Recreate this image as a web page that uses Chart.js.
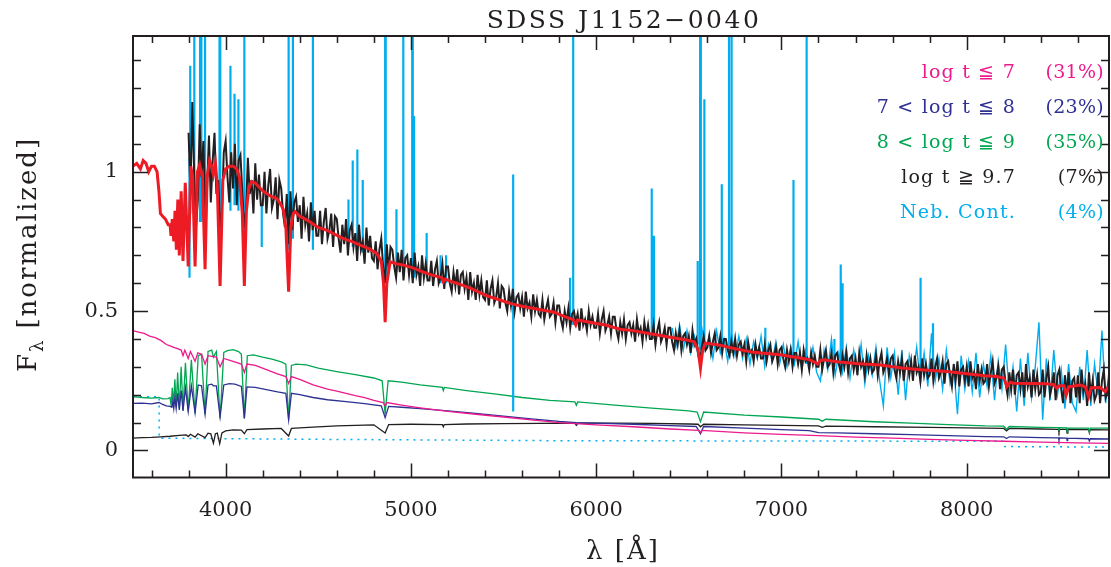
<!DOCTYPE html>
<html lang="en">
<head>
    <meta charset="UTF-8">
    <title>SDSS J1152-0040</title>
    <script src="https://cdn.jsdelivr.net/npm/chart.js"></script>
    <style>
        html, body {
            margin: 0;
            padding: 0;
            background: #fff;
        }
        #wrap {
            width: 1111px;
            height: 567px;
        }
    </style>
</head>
<body>
    <div id="wrap"><canvas id="spec"></canvas></div>

    <script>
        // observed spectrum, emission lines masked (black), 10 A grid from 3800 A
        const obsStart = 3800;
        const obsStep = 10;
        const obsFlux = [
            1.14, 0.92, 1.25, 1.00, 0.80, 0.90, 1.17, 0.98, 1.11, 0.85,
            0.94, 1.13, 0.89, 1.04, 1.14, 0.92, 0.97, 0.80, 0.86, 1.07,
            1.11, 0.98, 0.89, 1.07, 0.94, 1.10, 0.88, 1.04, 1.06, 0.93,
            0.80, 0.86, 1.05, 0.92, 0.97, 0.85, 1.03, 0.90, 0.99, 0.88,
            0.88, 1.00, 0.85, 0.95, 1.01, 0.87, 0.90, 0.98, 0.83, 0.97,
            0.94, 0.85, 0.80, 0.92, 0.74, 0.93, 0.79, 0.89, 0.91, 0.82,
            0.88, 0.76, 0.91, 0.81, 0.85, 0.75, 0.89, 0.79, 0.86, 0.77,
            0.77, 0.86, 0.74, 0.82, 0.87, 0.76, 0.79, 0.85, 0.73, 0.84,
            0.83, 0.76, 0.71, 0.81, 0.74, 0.83, 0.70, 0.79, 0.81, 0.73,
            0.78, 0.68, 0.81, 0.72, 0.75, 0.67, 0.80, 0.71, 0.77, 0.69,
            0.68, 0.75, 0.65, 0.72, 0.76, 0.66, 0.60, 0.74, 0.64, 0.73,
            0.72, 0.66, 0.62, 0.71, 0.64, 0.72, 0.61, 0.69, 0.70, 0.63,
            0.69, 0.60, 0.71, 0.63, 0.66, 0.59, 0.70, 0.62, 0.67, 0.61,
            0.61, 0.68, 0.59, 0.65, 0.68, 0.60, 0.62, 0.67, 0.58, 0.66,
            0.66, 0.60, 0.57, 0.64, 0.59, 0.65, 0.56, 0.63, 0.64, 0.58,
            0.62, 0.54, 0.64, 0.57, 0.60, 0.54, 0.63, 0.56, 0.61, 0.55,
            0.54, 0.61, 0.52, 0.58, 0.61, 0.53, 0.55, 0.60, 0.51, 0.59,
            0.58, 0.53, 0.50, 0.57, 0.52, 0.58, 0.50, 0.55, 0.56, 0.51,
            0.55, 0.48, 0.57, 0.51, 0.53, 0.48, 0.56, 0.50, 0.54, 0.49,
            0.48, 0.54, 0.47, 0.51, 0.54, 0.48, 0.49, 0.53, 0.46, 0.52,
            0.52, 0.47, 0.44, 0.50, 0.46, 0.51, 0.44, 0.49, 0.50, 0.46,
            0.49, 0.43, 0.51, 0.45, 0.47, 0.43, 0.50, 0.45, 0.48, 0.44,
            0.44, 0.49, 0.42, 0.47, 0.50, 0.43, 0.45, 0.48, 0.42, 0.48,
            0.48, 0.43, 0.40, 0.46, 0.42, 0.47, 0.40, 0.45, 0.46, 0.42,
            0.45, 0.39, 0.47, 0.42, 0.44, 0.39, 0.46, 0.41, 0.45, 0.40,
            0.40, 0.45, 0.38, 0.43, 0.46, 0.39, 0.41, 0.44, 0.38, 0.44,
            0.44, 0.39, 0.36, 0.42, 0.38, 0.43, 0.36, 0.41, 0.42, 0.38,
            0.41, 0.35, 0.43, 0.38, 0.40, 0.35, 0.32, 0.37, 0.41, 0.36,
            0.37, 0.41, 0.35, 0.39, 0.42, 0.36, 0.37, 0.41, 0.35, 0.40,
            0.40, 0.36, 0.34, 0.39, 0.35, 0.40, 0.34, 0.38, 0.39, 0.35,
            0.38, 0.32, 0.39, 0.35, 0.36, 0.32, 0.38, 0.34, 0.37, 0.33,
            0.33, 0.38, 0.32, 0.36, 0.38, 0.32, 0.34, 0.37, 0.31, 0.36,
            0.37, 0.33, 0.30, 0.36, 0.32, 0.36, 0.30, 0.35, 0.35, 0.31,
            0.35, 0.29, 0.36, 0.32, 0.33, 0.29, 0.35, 0.31, 0.34, 0.30,
            0.30, 0.36, 0.29, 0.33, 0.36, 0.30, 0.31, 0.35, 0.28, 0.34,
            0.35, 0.31, 0.28, 0.34, 0.30, 0.35, 0.28, 0.33, 0.34, 0.29,
            0.33, 0.27, 0.35, 0.30, 0.32, 0.27, 0.34, 0.29, 0.33, 0.28,
            0.29, 0.34, 0.27, 0.32, 0.35, 0.28, 0.30, 0.33, 0.27, 0.33,
            0.34, 0.29, 0.26, 0.32, 0.28, 0.33, 0.25, 0.31, 0.32, 0.27,
            0.32, 0.25, 0.34, 0.28, 0.30, 0.25, 0.33, 0.27, 0.31, 0.26,
            0.27, 0.33, 0.25, 0.30, 0.33, 0.26, 0.28, 0.32, 0.24, 0.31,
            0.32, 0.27, 0.23, 0.31, 0.25, 0.32, 0.23, 0.29, 0.30, 0.25,
            0.30, 0.23, 0.32, 0.26, 0.28, 0.22, 0.31, 0.25, 0.29, 0.24,
            0.25, 0.31, 0.23, 0.28, 0.32, 0.24, 0.26, 0.30, 0.22, 0.29,
            0.30, 0.24, 0.20, 0.28, 0.22, 0.29, 0.20, 0.27, 0.28, 0.22,
            0.28, 0.19, 0.31, 0.23, 0.26, 0.19, 0.29, 0.22, 0.27, 0.20,
            0.21, 0.29, 0.19, 0.26, 0.30, 0.20, 0.23, 0.28, 0.18, 0.27,
            0.29, 0.22, 0.17, 0.27, 0.20, 0.28, 0.17, 0.25, 0.26, 0.19,
            0.27, 0.17, 0.29, 0.21, 0.24, 0.16, 0.28, 0.20, 0.25, 0.18,
            0.20, 0.28, 0.17, 0.25, 0.29, 0.19, 0.21, 0.27
        ];

        // full observed spectrum (cyan) where it shows beyond the black one, 20 A grid from 6410 A
        const fullStart = 6410;
        const fullStep = 20;
        const fullFlux = [
            0.44, 0.37, 0.45, 0.36, 0.43, 0.35, 0.41, 0.34, 0.44, 0.36,
            0.41, 0.33, 0.43, 0.35, 0.40, 0.32, 0.42, 0.34, 0.41, 0.33,
            0.40, 0.31, 0.39, 0.33, 0.41, 0.30, 0.38, 0.32, 0.39, 0.31,
            0.38, 0.30, 0.37, 0.31, 0.39, 0.29, 0.36, 0.30, 0.37, 0.28,
            0.25, 0.36, 0.29, 0.40, 0.27, 0.35, 0.28, 0.37, 0.26, 0.36,
            0.28, 0.38, 0.24, 0.34, 0.27, 0.37, 0.25, 0.16, 0.37, 0.26,
            0.35, 0.20, 0.36, 0.18, 0.34, 0.27, 0.37, 0.24, 0.35, 0.23,
            0.42, 0.25, 0.33, 0.22, 0.36, 0.24, 0.30, 0.13, 0.34, 0.22,
            0.32, 0.21, 0.35, 0.19, 0.31, 0.23, 0.34, 0.18, 0.32, 0.22,
            0.38, 0.20, 0.30, 0.14, 0.33, 0.16, 0.35, 0.19, 0.30, 0.46,
            0.11, 0.33, 0.18, 0.36, 0.20, 0.29, 0.15, 0.31, 0.17, 0.14,
            0.30, 0.18, 0.36, 0.16, 0.31, 0.20, 0.43, 0.17, 0.30
        ];

        // emission lines in the full spectrum: [wavelength, low, high]
        const emissionLines = [
            [3805, 0.62, 1.05], [3809, 0.85, 1.38], [3831, 0.80, 1.60], [3862, 0.82, 1.60],
            [3869, 0.82, 1.60], [3889, 0.78, 1.60], [3967, 0.70, 1.60], [3971, 0.70, 1.60],
            [4026, 0.86, 1.38], [4048, 0.88, 1.28], [4069, 0.86, 1.26], [4101, 0.62, 1.60],
            [4195, 0.73, 0.88], [4340, 0.72, 1.60], [4363, 0.76, 1.60], [4471, 0.72, 1.60],
            [4663, 0.74, 0.90], [4686, 0.73, 1.04], [4711, 0.72, 1.08], [4740, 0.71, 0.97],
            [4861, 0.62, 1.60], [4864, 0.62, 1.60], [4922, 0.64, 0.865], [4959, 0.63, 1.60],
            [5007, 0.62, 1.60], [5010, 0.62, 1.60], [5017, 0.62, 1.20], [5085, 0.62, 0.78],
            [5160, 0.60, 0.70], [5190, 0.60, 0.70], [5552, 0.14, 0.99], [5859, 0.46, 0.62],
            [5876, 0.45, 1.60], [6300, 0.40, 0.94], [6312, 0.40, 0.77], [6548, 0.38, 0.68],
            [6561, 0.36, 1.60], [6565, 0.36, 1.60], [6584, 0.37, 1.26], [6678, 0.35, 0.955],
            [6717, 0.35, 1.60], [6731, 0.35, 1.60], [6913, 0.33, 0.44], [7065, 0.32, 0.97],
            [7136, 0.31, 1.60], [7286, 0.30, 0.40], [7320, 0.30, 0.667], [7330, 0.30, 0.60],
            [7751, 0.27, 0.62], [7818, 0.27, 0.456]
        ];

        // best-fit synthetic spectrum (red): [wavelength, flux]
        const modelPoints = [
            [3500, 1.02], [3520, 1.03], [3540, 1.01], [3555, 1.04], [3570, 1.03], [3585, 1.00],
            [3600, 1.02], [3615, 1.02], [3630, 1.00], [3640, 0.93], [3648, 0.85], [3660, 0.84],
            [3675, 0.83], [3690, 0.81], [3700, 0.81], [3705, 0.77], [3712, 0.83], [3720, 0.75],
            [3727, 0.86], [3734, 0.72], [3742, 0.90], [3750, 0.70], [3760, 0.93], [3770, 0.68],
            [3782, 0.96], [3798, 0.66], [3812, 1.02], [3822, 0.98], [3835, 0.66], [3848, 1.00],
            [3860, 1.025], [3875, 0.98], [3889, 0.65], [3900, 0.98], [3913, 1.04], [3925, 1.02],
            [3934, 0.99], [3945, 1.03], [3955, 0.95], [3970, 0.59], [3985, 0.97], [4000, 1.01],
            [4020, 1.02], [4040, 1.02], [4060, 1.01], [4075, 0.98], [4090, 0.85], [4101, 0.59],
            [4112, 0.86], [4125, 0.94], [4141, 0.965], [4160, 0.96], [4180, 0.945], [4203, 0.93],
            [4225, 0.92], [4250, 0.91], [4276, 0.905], [4300, 0.88], [4312, 0.863], [4325, 0.80],
            [4340, 0.57], [4352, 0.80], [4365, 0.85], [4375, 0.857], [4400, 0.84], [4430, 0.83],
            [4456, 0.82], [4500, 0.80], [4546, 0.79], [4590, 0.775], [4636, 0.76], [4680, 0.75],
            [4726, 0.737], [4770, 0.725], [4816, 0.707], [4840, 0.68], [4852, 0.60], [4861, 0.46],
            [4870, 0.60], [4888, 0.677], [4920, 0.67], [4960, 0.665], [5010, 0.655], [5068, 0.64],
            [5110, 0.63], [5165, 0.62], [5175, 0.605], [5185, 0.615], [5200, 0.61], [5270, 0.595],
            [5330, 0.58], [5409, 0.555], [5480, 0.54], [5550, 0.525], [5620, 0.515], [5700, 0.505],
            [5769, 0.497], [5830, 0.48], [5875, 0.47], [5890, 0.45], [5900, 0.468], [5950, 0.462],
            [6050, 0.45], [6129, 0.435], [6200, 0.43], [6300, 0.418], [6400, 0.406], [6489, 0.396],
            [6530, 0.39], [6550, 0.36], [6563, 0.295], [6575, 0.36], [6590, 0.385], [6669, 0.378],
            [6750, 0.365], [6850, 0.352], [6993, 0.343], [7100, 0.332], [7150, 0.326], [7173, 0.319],
            [7195, 0.31], [7210, 0.323], [7227, 0.325], [7300, 0.318], [7400, 0.312], [7533, 0.307],
            [7650, 0.296], [7750, 0.29], [7893, 0.283], [8000, 0.275], [8100, 0.268], [8163, 0.265],
            [8200, 0.26], [8217, 0.229], [8235, 0.245], [8253, 0.241], [8350, 0.24], [8433, 0.239],
            [8470, 0.236], [8487, 0.223], [8500, 0.232], [8525, 0.232], [8537, 0.199], [8550, 0.228],
            [8613, 0.235], [8640, 0.228], [8658, 0.193], [8672, 0.225], [8720, 0.226], [8748, 0.211],
            [8760, 0.226], [8775, 0.229]
        ];

        // age components
        const youngPoints = [
            [3500, 0.43], [3530, 0.425], [3560, 0.42], [3590, 0.41], [3620, 0.405], [3650, 0.395],
            [3680, 0.38], [3700, 0.375], [3720, 0.37], [3740, 0.365], [3760, 0.36], [3770, 0.34],
            [3780, 0.36], [3798, 0.33], [3810, 0.355], [3835, 0.32], [3850, 0.35], [3870, 0.345],
            [3889, 0.31], [3905, 0.34], [3950, 0.335], [3970, 0.30], [3990, 0.33], [4040, 0.32],
            [4085, 0.31], [4101, 0.28], [4115, 0.31], [4160, 0.305], [4220, 0.29], [4280, 0.275],
            [4325, 0.265], [4340, 0.24], [4355, 0.265], [4400, 0.255], [4472, 0.235], [4500, 0.23],
            [4550, 0.22], [4600, 0.213], [4650, 0.205], [4700, 0.197], [4750, 0.19], [4800, 0.18],
            [4850, 0.172], [4861, 0.16], [4870, 0.172], [4950, 0.163], [5050, 0.153], [5200, 0.14],
            [5350, 0.13], [5500, 0.12], [5650, 0.11], [5800, 0.10], [6000, 0.092], [6200, 0.085],
            [6400, 0.077], [6555, 0.072], [6563, 0.064], [6570, 0.072], [6800, 0.063], [7000, 0.058],
            [7200, 0.053], [7400, 0.048], [7600, 0.044], [7800, 0.04], [8000, 0.036], [8200, 0.033],
            [8400, 0.03], [8600, 0.027], [8775, 0.025]
        ];

        const midPoints = [
            [3500, 0.169], [3550, 0.17], [3600, 0.167], [3640, 0.172], [3660, 0.165], [3680, 0.16],
            [3700, 0.158], [3710, 0.155], [3715, 0.175], [3720, 0.15], [3726, 0.19], [3733, 0.15],
            [3741, 0.205], [3750, 0.145], [3760, 0.215], [3770, 0.142], [3783, 0.225], [3798, 0.14],
            [3815, 0.232], [3835, 0.135], [3852, 0.235], [3870, 0.232], [3889, 0.13], [3905, 0.235],
            [3925, 0.238], [3934, 0.232], [3950, 0.232], [3970, 0.12], [3990, 0.235], [4020, 0.24],
            [4050, 0.238], [4085, 0.23], [4101, 0.115], [4115, 0.228], [4160, 0.226], [4220, 0.218],
            [4280, 0.21], [4325, 0.205], [4340, 0.11], [4355, 0.205], [4400, 0.2], [4472, 0.19],
            [4550, 0.182], [4650, 0.175], [4750, 0.168], [4840, 0.16], [4861, 0.118], [4880, 0.158],
            [4950, 0.155], [5050, 0.15], [5200, 0.142], [5350, 0.133], [5500, 0.123], [5650, 0.113],
            [5800, 0.104], [5890, 0.1], [5893, 0.093], [5896, 0.1], [6000, 0.098], [6200, 0.094],
            [6400, 0.089], [6540, 0.086], [6563, 0.06], [6580, 0.086], [6800, 0.08], [7000, 0.075],
            [7150, 0.071], [7200, 0.064], [7300, 0.063], [7500, 0.06], [7700, 0.057], [7900, 0.053],
            [8100, 0.05], [8200, 0.049], [8215, 0.043], [8230, 0.049], [8400, 0.046], [8495, 0.045],
            [8498, 0.037], [8501, 0.045], [8540, 0.044], [8542, 0.035], [8545, 0.044], [8657, 0.042],
            [8662, 0.034], [8667, 0.042], [8775, 0.041]
        ];

        const interPoints = [
            [3500, 0.193], [3550, 0.19], [3600, 0.188], [3640, 0.19], [3660, 0.185], [3690, 0.186],
            [3700, 0.19], [3706, 0.16], [3712, 0.225], [3718, 0.16], [3726, 0.255], [3733, 0.155],
            [3741, 0.28], [3750, 0.15], [3760, 0.30], [3770, 0.145], [3783, 0.315], [3798, 0.14],
            [3815, 0.325], [3835, 0.133], [3852, 0.34], [3870, 0.345], [3889, 0.13], [3905, 0.355],
            [3925, 0.36], [3934, 0.335], [3950, 0.355], [3970, 0.115], [3990, 0.352], [4010, 0.358],
            [4040, 0.362], [4070, 0.355], [4085, 0.345], [4101, 0.115], [4117, 0.34], [4150, 0.343],
            [4200, 0.335], [4250, 0.328], [4300, 0.318], [4325, 0.31], [4340, 0.109], [4355, 0.305],
            [4380, 0.31], [4436, 0.307], [4500, 0.295], [4600, 0.283], [4700, 0.272], [4800, 0.26],
            [4845, 0.25], [4861, 0.13], [4877, 0.25], [4950, 0.245], [5050, 0.235], [5170, 0.226],
            [5175, 0.215], [5180, 0.226], [5300, 0.215], [5450, 0.203], [5600, 0.19], [5750, 0.18],
            [5885, 0.174], [5893, 0.162], [5900, 0.174], [6100, 0.163], [6300, 0.152], [6500, 0.142],
            [6545, 0.138], [6563, 0.103], [6580, 0.138], [6800, 0.127], [7000, 0.12], [7200, 0.112],
            [7220, 0.105], [7240, 0.112], [7500, 0.103], [7700, 0.098], [7900, 0.093], [8100, 0.088],
            [8200, 0.087], [8215, 0.076], [8230, 0.086], [8400, 0.083], [8495, 0.082], [8498, 0.07],
            [8501, 0.082], [8540, 0.081], [8542, 0.066], [8545, 0.081], [8657, 0.08], [8662, 0.066],
            [8667, 0.08], [8775, 0.08]
        ];

        const oldPoints = [
            [3500, 0.044], [3550, 0.046], [3600, 0.047], [3650, 0.049], [3700, 0.051], [3750, 0.054],
            [3787, 0.056], [3798, 0.05], [3810, 0.058], [3835, 0.048], [3850, 0.06], [3889, 0.046],
            [3905, 0.062], [3920, 0.06], [3934, 0.026], [3945, 0.06], [3955, 0.062], [3968, 0.024],
            [3980, 0.063], [4000, 0.07], [4040, 0.074], [4085, 0.073], [4101, 0.06], [4115, 0.075],
            [4200, 0.077], [4300, 0.079], [4340, 0.052], [4355, 0.079], [4400, 0.081], [4472, 0.084],
            [4600, 0.088], [4700, 0.09], [4800, 0.092], [4861, 0.063], [4880, 0.093], [5000, 0.094],
            [5170, 0.093], [5175, 0.085], [5180, 0.093], [5300, 0.095], [5500, 0.096], [5700, 0.097],
            [5885, 0.098], [5893, 0.09], [5900, 0.098], [6100, 0.098], [6300, 0.097], [6500, 0.095],
            [6550, 0.094], [6563, 0.085], [6580, 0.094], [6800, 0.092], [7000, 0.09], [7200, 0.088],
            [7220, 0.083], [7240, 0.087], [7500, 0.085], [7800, 0.083], [8100, 0.08], [8200, 0.079],
            [8215, 0.07], [8230, 0.079], [8400, 0.077], [8494, 0.076], [8498, 0.066], [8502, 0.076],
            [8538, 0.076], [8542, 0.062], [8546, 0.076], [8658, 0.075], [8662, 0.064], [8666, 0.075],
            [8775, 0.074]
        ];

        // nebular continuum (dotted)
        const nebPoints = [
            [3500, 0.193], [3641, 0.193], [3641, 0.044], [4500, 0.04], [5800, 0.035],
            [8200, 0.033], [8205, 0.014], [8775, 0.012]
        ];

        const legendLabels = ['log t \u2266 7', '7 < log t \u2266 8', '8 < log t \u2266 9', 'log t \u2267 9.7', 'Neb. Cont.'];
        const legendShares = ['(31%)', '(23%)', '(35%)', '(7%)', '(4%)'];
        const legendColors = ['#EC1A8D', '#2E3192', '#00A651', '#231F20', '#00AEEF'];

        const C = {
            red: '#ED1C24', black: '#231F20', cyan: '#00AEEF',
            pink: '#EC1A8D', navy: '#2E3192', green: '#00A651'
        };

        function toXY(list) {
            return list.map(p => ({ x: p[0], y: p[1] }));
        }

        function gridXY(start, step, flux) {
            return flux.map((f, i) => ({ x: start + i * step, y: f }));
        }

        function lineXY(lines) {
            const out = [];
            lines.forEach(l => {
                out.push({ x: l[0], y: l[1] });
                out.push({ x: l[0], y: l[2] });
                out.push({ x: l[0], y: null });
            });
            return out;
        }

        function ds(data, color, width, extra) {
            return Object.assign({
                data: data,
                borderColor: color,
                borderWidth: width,
                pointRadius: 0,
                tension: 0,
                fill: false
            }, extra || {});
        }

        const frame = {
            id: 'frame',
            afterDraw(chart) {
                const { ctx, chartArea: a, scales: { x, y } } = chart;
                ctx.save();
                ctx.strokeStyle = C.black;
                ctx.lineWidth = 1.5;
                ctx.beginPath();
                x.ticks.forEach(t => {
                    const px = Math.round(x.getPixelForValue(t.value)) + 0.5;
                    const len = t.value % 1000 === 0 ? 14 : 7;
                    ctx.moveTo(px, a.bottom); ctx.lineTo(px, a.bottom - len);
                    ctx.moveTo(px, a.top); ctx.lineTo(px, a.top + len);
                });
                y.ticks.forEach(t => {
                    const py = Math.round(y.getPixelForValue(t.value)) + 0.5;
                    const major = Math.abs(t.value * 2 - Math.round(t.value * 2)) < 1e-6;
                    const len = major ? 15 : 8;
                    ctx.moveTo(a.left, py); ctx.lineTo(a.left + len, py);
                    ctx.moveTo(a.right, py); ctx.lineTo(a.right - len, py);
                });
                ctx.stroke();
                ctx.lineWidth = 2;
                ctx.strokeRect(a.left, a.top, a.right - a.left, a.bottom - a.top);

                ctx.fillStyle = C.black;
                ctx.textBaseline = 'alphabetic';

                // title
                ctx.letterSpacing = '2.5px';
                ctx.font = '25px "DejaVu Serif"';
                ctx.textAlign = 'center';
                ctx.fillText('SDSS J1152\u22120040', 624, 28);

                // x axis title
                ctx.letterSpacing = '2px';
                ctx.font = '26px "DejaVu Serif"';
                ctx.fillText('\u03bb [\u00c5]', 623, 559);

                // y axis title
                ctx.save();
                ctx.translate(36, 372);
                ctx.rotate(-Math.PI / 2);
                ctx.textAlign = 'left';
                ctx.font = '26px "DejaVu Serif"';
                ctx.fillText('F', 0, 0);
                let w = ctx.measureText('F').width;
                ctx.font = '18px "DejaVu Serif"';
                ctx.fillText('\u03bb', w, 7);
                w += ctx.measureText('\u03bb').width + 10;
                ctx.font = '26px "DejaVu Serif"';
                ctx.fillText('[normalized]', w, 0);
                ctx.restore();

                // legend
                ctx.font = '19px "DejaVu Serif"';
                ctx.textAlign = 'right';
                legendLabels.forEach((lab, i) => {
                    const by = 78 + i * 35;
                    ctx.fillStyle = legendColors[i];
                    ctx.letterSpacing = '1.2px';
                    ctx.fillText(lab, 1016, by);
                    ctx.letterSpacing = '0.3px';
                    ctx.fillText(legendShares[i], 1104, by);
                });
                ctx.restore();
            }
        };

        const tickFont = { family: 'DejaVu Serif', size: 21 };

        new Chart(document.getElementById('spec'), {
            type: 'line',
            data: {
                datasets: [
                    ds(toXY(modelPoints), C.red, 3),
                    ds(gridXY(obsStart, obsStep, obsFlux), C.black, 2),
                    ds(lineXY(emissionLines), C.cyan, 2.2, { spanGaps: false }),
                    ds(gridXY(fullStart, fullStep, fullFlux), C.cyan, 1.4),
                    ds(toXY(youngPoints), C.pink, 1.3),
                    ds(toXY(midPoints), C.navy, 1.3),
                    ds(toXY(interPoints), C.green, 1.3),
                    ds(toXY(oldPoints), C.black, 1.3),
                    ds(toXY(nebPoints), C.cyan, 1.5, { borderDash: [2, 5] })
                ]
            },
            options: {
                responsive: true,
                maintainAspectRatio: false,
                animation: false,
                layout: { padding: { top: 36, right: 2, left: 0, bottom: 0 } },
                plugins: {
                    legend: { display: false },
                    title: { display: false },
                    tooltip: { enabled: false }
                },
                scales: {
                    x: {
                        type: 'linear',
                        min: 3500,
                        max: 8768,
                        grid: { display: false, drawTicks: false },
                        border: { display: false },
                        ticks: {
                            stepSize: 200,
                            includeBounds: false,
                            autoSkip: false,
                            maxRotation: 0,
                            padding: 20,
                            color: C.black,
                            font: tickFont,
                            callback: v => (v % 1000 === 0 ? String(v) : '')
                        },
                        afterFit: s => { s.height = 89.5; }
                    },
                    y: {
                        type: 'linear',
                        min: -0.097,
                        max: 1.487,
                        grid: { display: false, drawTicks: false },
                        border: { display: false },
                        ticks: {
                            stepSize: 0.1,
                            includeBounds: false,
                            autoSkip: false,
                            padding: 15,
                            color: C.black,
                            font: tickFont,
                            callback: v => {
                                const h = Math.round(v * 2);
                                if (Math.abs(v * 2 - h) > 1e-6) return '';
                                return h === 0 ? '0' : String(h / 2);
                            }
                        },
                        afterFit: s => { s.width = 133; }
                    }
                }
            },
            plugins: [frame]
        });
    </script>
</body>
</html>
